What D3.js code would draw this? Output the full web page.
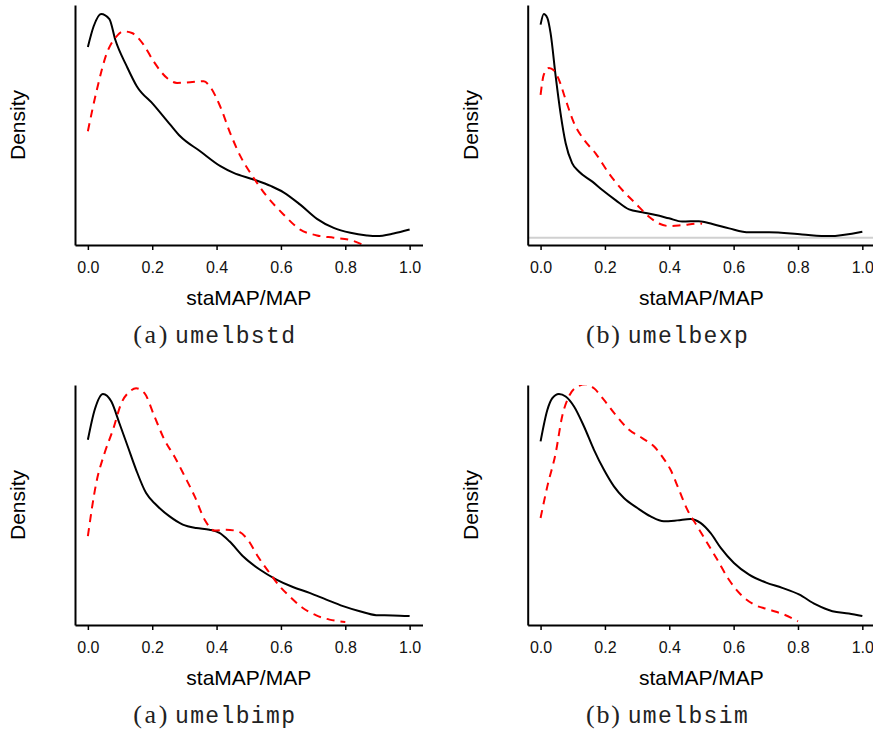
<!DOCTYPE html>
<html>
<head>
<meta charset="utf-8">
<script src="https://cdn.jsdelivr.net/npm/d3@7"></script>
<style>
  body { margin: 0; background: #fff; }
</style>
</head>
<body>
<svg id="chart"></svg>
<script>
// x tick labels and panel captions
var xTicks = [0, 0.2, 0.4, 0.6, 0.8, 1.0];
var tags = ["(a)", "(b)", "(a)", "(b)"];
var names = ["umelbstd", "umelbexp", "umelbimp", "umelbsim"];

// density curves, [staMAP/MAP, density]
var stdBlack = [[0.000,0.847],[0.018,0.936],[0.041,0.989],[0.067,0.967],[0.085,0.879],[0.121,0.764],[0.152,0.679],[0.204,0.600],[0.256,0.514],[0.287,0.464],[0.349,0.400],[0.412,0.336],[0.453,0.307],[0.515,0.279],[0.570,0.250],[0.608,0.224],[0.660,0.171],[0.712,0.110],[0.764,0.071],[0.816,0.050],[0.867,0.039],[0.898,0.036],[0.950,0.047],[1.000,0.064]];
var stdRed = [[0.000,0.486],[0.028,0.664],[0.059,0.821],[0.085,0.886],[0.111,0.914],[0.137,0.907],[0.173,0.857],[0.204,0.786],[0.246,0.714],[0.277,0.693],[0.318,0.696],[0.360,0.700],[0.380,0.676],[0.411,0.593],[0.442,0.479],[0.474,0.379],[0.515,0.286],[0.556,0.207],[0.608,0.129],[0.660,0.064],[0.712,0.039],[0.764,0.029],[0.816,0.019],[0.853,0.000]];

var expBlack = [[0.000,0.911],[0.010,0.957],[0.021,0.940],[0.031,0.876],[0.047,0.690],[0.062,0.533],[0.078,0.404],[0.098,0.319],[0.119,0.283],[0.161,0.240],[0.192,0.204],[0.233,0.161],[0.275,0.121],[0.316,0.109],[0.358,0.097],[0.399,0.083],[0.440,0.069],[0.492,0.071],[0.534,0.059],[0.586,0.040],[0.648,0.023],[0.710,0.023],[0.813,0.014],[0.896,0.007],[1.000,0.026]];
var expRed = [[0.000,0.611],[0.010,0.697],[0.026,0.726],[0.041,0.716],[0.057,0.676],[0.078,0.590],[0.104,0.490],[0.135,0.419],[0.171,0.361],[0.212,0.276],[0.254,0.204],[0.295,0.147],[0.337,0.090],[0.368,0.061],[0.399,0.050],[0.440,0.054],[0.492,0.061],[0.502,0.060]];

var impBlack = [[0.000,0.793],[0.021,0.921],[0.047,0.990],[0.073,0.957],[0.098,0.864],[0.124,0.764],[0.150,0.664],[0.181,0.564],[0.212,0.514],[0.254,0.464],[0.295,0.429],[0.337,0.414],[0.378,0.407],[0.409,0.393],[0.440,0.357],[0.482,0.293],[0.534,0.236],[0.586,0.193],[0.637,0.161],[0.689,0.136],[0.741,0.107],[0.793,0.079],[0.845,0.057],[0.896,0.040],[0.948,0.039],[1.000,0.036]];
var impRed = [[0.000,0.379],[0.026,0.607],[0.052,0.736],[0.078,0.836],[0.104,0.950],[0.130,1.000],[0.150,1.014],[0.176,0.993],[0.207,0.893],[0.238,0.793],[0.269,0.721],[0.301,0.636],[0.332,0.550],[0.363,0.450],[0.394,0.403],[0.430,0.407],[0.466,0.400],[0.497,0.364],[0.528,0.293],[0.565,0.221],[0.596,0.164],[0.627,0.121],[0.668,0.071],[0.710,0.039],[0.751,0.021],[0.800,0.011]];

var simBlack = [[0.000,0.786],[0.021,0.921],[0.036,0.971],[0.057,0.990],[0.078,0.979],[0.104,0.936],[0.135,0.850],[0.166,0.750],[0.197,0.664],[0.228,0.593],[0.259,0.543],[0.301,0.500],[0.342,0.464],[0.383,0.443],[0.425,0.447],[0.466,0.453],[0.497,0.436],[0.528,0.393],[0.560,0.329],[0.601,0.264],[0.648,0.214],[0.699,0.181],[0.751,0.157],[0.803,0.129],[0.855,0.086],[0.907,0.057],[0.958,0.047],[1.000,0.036]];
var simRed = [[0.000,0.457],[0.021,0.593],[0.047,0.736],[0.067,0.893],[0.088,0.979],[0.114,1.021],[0.140,1.031],[0.166,1.014],[0.197,0.964],[0.233,0.900],[0.275,0.836],[0.316,0.800],[0.353,0.764],[0.378,0.721],[0.404,0.664],[0.430,0.579],[0.456,0.493],[0.487,0.421],[0.518,0.350],[0.549,0.279],[0.585,0.193],[0.622,0.129],[0.663,0.086],[0.710,0.064],[0.756,0.043],[0.800,0.014]];

var blacks = [stdBlack, expBlack, impBlack, simBlack];
var reds = [stdRed, expRed, impRed, simRed];

var width = 873, height = 731;
var plotW = 347.5, plotH = 240;
var lefts = [75, 527.7], tops = [5, 385];
var sans = "'Liberation Sans', Arial, Helvetica, sans-serif";

var svg = d3.select("#chart")
    .attr("width", width)
    .attr("height", height);

svg.append("rect").attr("width", width).attr("height", height).attr("fill", "#fff");

blacks.forEach(function(black, i) {
  var left = lefts[i % 2], top = tops[Math.floor(i / 2)];
  var bottom = top + plotH;

  // R style: 4% padding round the data range, y range set by the first (black) curve
  var x = d3.scaleLinear().domain([-0.04, 1.04]).range([left, left + plotW]);
  var ext = d3.extent(black, function(d) { return d[1]; });
  var pad = (ext[1] - ext[0]) * 0.04;
  var y = d3.scaleLinear().domain([ext[0] - pad, ext[1] + pad]).range([bottom, top]);

  var g = svg.append("g");

  g.append("clipPath").attr("id", "clip" + i)
    .append("rect")
    .attr("x", left).attr("y", top)
    .attr("width", plotW).attr("height", plotH);

  var plot = g.append("g").attr("clip-path", "url(#clip" + i + ")");

  // zero line, only where it shows above the axis
  if (y(0) < bottom - 3) {
    plot.append("line")
      .attr("x1", left).attr("x2", left + plotW)
      .attr("y1", y(0)).attr("y2", y(0))
      .attr("stroke", "#d0d0d0")
      .attr("stroke-width", 2);
  }

  var line = d3.line()
    .x(function(d) { return x(d[0]); })
    .y(function(d) { return y(d[1]); })
    .curve(d3.curveMonotoneX);

  plot.append("path")
    .datum(black)
    .attr("d", line)
    .attr("fill", "none")
    .attr("stroke", "#000")
    .attr("stroke-width", 2);

  plot.append("path")
    .datum(reds[i])
    .attr("d", line)
    .attr("fill", "none")
    .attr("stroke", "#ff0000")
    .attr("stroke-width", 2)
    .attr("stroke-dasharray", "8,6");

  // axes
  var xAxis = g.append("g")
    .attr("transform", "translate(0," + bottom + ")")
    .call(d3.axisBottom(x).tickValues(xTicks).tickFormat(d3.format(".1f"))
      .tickSizeInner(5).tickSizeOuter(0).tickPadding(11.5));
  xAxis.attr("font-family", sans).attr("font-size", 16);
  xAxis.select(".domain").attr("stroke-width", 2);
  xAxis.selectAll(".tick line").attr("stroke-width", 1.5);
  xAxis.selectAll(".tick text").attr("fill", "#111");

  var yAxis = g.append("g")
    .attr("transform", "translate(" + left + ",0)")
    .call(d3.axisLeft(y).tickValues([]).tickSizeOuter(0));
  yAxis.select(".domain").attr("stroke-width", 2);

  // axis titles
  g.append("text")
    .attr("x", left + plotW / 2)
    .attr("y", bottom + 60)
    .attr("text-anchor", "middle")
    .attr("font-family", sans)
    .attr("font-size", 21)
    .text("staMAP/MAP");

  g.append("text")
    .attr("transform", "translate(" + (left - 50) + "," + (top + plotH / 2) + ") rotate(-90)")
    .attr("text-anchor", "middle")
    .attr("font-family", sans)
    .attr("font-size", 21)
    .text("Density");

  // caption
  var cap = g.append("text")
    .attr("y", bottom + 98)
    .attr("fill", "#222");
  cap.append("tspan")
    .attr("x", left + 58.3)
    .attr("font-family", "'Liberation Serif', 'Times New Roman', serif")
    .attr("font-size", 26)
    .attr("textLength", 34)
    .text(tags[i]);
  cap.append("tspan")
    .attr("x", left + 100)
    .attr("font-family", "'Liberation Mono', 'DejaVu Sans Mono', monospace")
    .attr("font-size", 23)
    .attr("textLength", 120)
    .text(names[i]);
});
</script>
</body>
</html>
